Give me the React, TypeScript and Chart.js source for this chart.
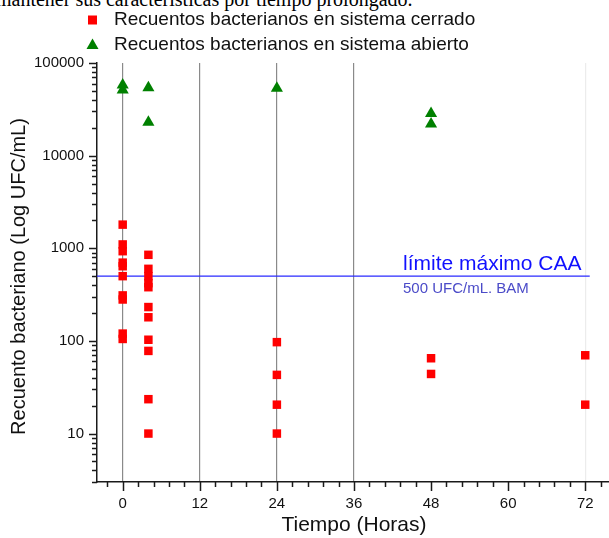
import React, { useEffect, useRef } from "react";
import { Chart, registerables } from "chart.js";

Chart.register(...registerables);

// ---- data ----
const introText = "mantener sus características por tiempo prolongado.";
const legendLabels = [
  "Recuentos bacterianos en sistema cerrado",
  "Recuentos bacterianos en sistema abierto",
];
const closedHours = [0, 0, 0, 0, 0, 0, 0, 0, 0, 0, 4, 4, 4, 4, 4, 4, 4, 4, 4, 4, 4, 24, 24, 24, 24, 48, 48, 72, 72];
const closedCounts = [1800, 1100, 930, 700, 640, 500, 310, 280, 120, 105, 850, 600, 500, 420, 380, 232, 180, 103, 78, 23.5, 10, 97, 43, 20.5, 10, 65, 44, 70, 20.5];
const openHours = [0, 0, 4, 4, 24, 48, 48];
const openCounts = [58000, 51000, 54000, 23000, 53500, 28500, 22000];
const xTickValues = [0, 12, 24, 36, 48, 60, 72];
const xGridValues = [0, 12, 24, 36];
const yTickValues = [10, 100, 1000, 10000, 100000];
const limitValue = 500;
const limitSpan = [-4, 72.7];
const limitTitle = "límite máximo CAA";
const limitNote = "500 UFC/mL. BAM";
const xTitle = "Tiempo (Horas)";
const yTitle = "Recuento bacteriano (Log UFC/mL)";

const SANS = "'Liberation Sans', Arial, sans-serif";

const decorPlugin = {
  id: "decor",
  afterDraw(chart: any) {
    const ctx = chart.ctx as CanvasRenderingContext2D;
    const xs = chart.scales.x;
    const ys = chart.scales.y;
    const area = chart.chartArea;
    ctx.save();
    // y ticks (outside, left)
    ctx.strokeStyle = "#1a1a1a";
    ctx.lineWidth = 1.5;
    for (let k = 0; k <= 5; k++) {
      for (let m = 1; m <= 9; m++) {
        const v = m * Math.pow(10, k);
        if (v < ys.min || v > ys.max) continue;
        const py = Math.round(ys.getPixelForValue(v)) + 0.5;
        const len = m === 1 ? 8 : 5;
        ctx.beginPath();
        ctx.moveTo(area.left - len, py);
        ctx.lineTo(area.left, py);
        ctx.stroke();
      }
    }
    // x ticks (outside, below)
    for (let i = -1; i * 2.4 <= xs.max; i++) {
      const v = i * 2.4;
      if (v < xs.min) continue;
      const px = Math.round(xs.getPixelForValue(v)) + 0.5;
      const major = i % 5 === 0;
      const len = major ? 9 : 5;
      ctx.beginPath();
      ctx.moveTo(px, area.bottom);
      ctx.lineTo(px, area.bottom + len);
      ctx.stroke();
    }
    // limit labels
    const ly = ys.getPixelForValue(limitValue);
    ctx.fillStyle = "#1010ff";
    ctx.font = `21px ${SANS}`;
    ctx.textAlign = "left";
    ctx.textBaseline = "alphabetic";
    ctx.fillText(limitTitle, 403, ly - 6);
    ctx.fillStyle = "#4b4bc8";
    ctx.font = `15px ${SANS}`;
    ctx.fillText(limitNote, 403, ly + 17);
    // axis titles
    ctx.fillStyle = "#111";
    ctx.font = `21px ${SANS}`;
    ctx.textAlign = "center";
    ctx.fillText(xTitle, xs.getPixelForValue(36), 531);
    ctx.font = `20px ${SANS}`;
    ctx.save();
    ctx.translate(25, (area.top + area.bottom) / 2 + 4);
    ctx.rotate(-Math.PI / 2);
    ctx.fillText(yTitle, 0, 0);
    ctx.restore();
    // legend
    ctx.textAlign = "left";
    ctx.textBaseline = "middle";
    ctx.font = `19px ${SANS}`;
    ctx.fillStyle = "#ff0000";
    ctx.fillRect(88, 15.5, 9, 9);
    ctx.fillStyle = "#111";
    ctx.fillText(legendLabels[0], 114, 20);
    ctx.fillStyle = "#008000";
    ctx.beginPath();
    ctx.moveTo(92.5, 38.5);
    ctx.lineTo(98.5, 49);
    ctx.lineTo(86.5, 49);
    ctx.closePath();
    ctx.fill();
    ctx.fillStyle = "#111";
    ctx.fillText(legendLabels[1], 114, 45);
    ctx.restore();
  },
};

export default function App() {
  const ref = useRef<HTMLCanvasElement | null>(null);
  useEffect(() => {
    if (!ref.current) return;
    const chart = new Chart(ref.current, {
      type: "scatter",
      data: {
        datasets: [
          {
            label: legendLabels[0],
            data: closedHours.map((x, i) => ({ x, y: closedCounts[i] })),
            pointStyle: "rect",
            pointRadius: 6,
            backgroundColor: "#ff0000",
            borderColor: "#ff0000",
            borderWidth: 0,
          },
          {
            label: legendLabels[1],
            data: openHours.map((x, i) => ({ x, y: openCounts[i] })),
            pointStyle: "triangle",
            pointRadius: 7,
            backgroundColor: "#008000",
            borderColor: "#008000",
            borderWidth: 0,
          },
          {
            label: "limit",
            type: "line",
            data: limitSpan.map((x) => ({ x, y: limitValue })),
            borderColor: "#2a2aff",
            borderWidth: 1.3,
            pointRadius: 0,
            showLine: true,
            fill: false,
          } as any,
        ],
      },
      options: {
        responsive: false,
        animation: false,
        events: [],
        layout: { autoPadding: false, padding: { top: 63, left: 0, right: 0, bottom: 0 } },
        plugins: { legend: { display: false }, tooltip: { enabled: false } },
        scales: {
          x: {
            type: "linear",
            min: -4,
            max: 75.7,
            afterFit: (s: any) => {
              s.height = 56;
              s.paddingLeft = 0;
              s.paddingRight = 0;
            },
            afterBuildTicks: (s: any) => {
              s.ticks = xTickValues.map((value) => ({ value }));
            },
            ticks: {
              autoSkip: false,
              maxRotation: 0,
              padding: 13,
              color: "#111",
              font: { family: SANS, size: 15 },
              callback: (v: any) => String(v),
            },
            grid: {
              drawTicks: false,
              lineWidth: 1.2,
              color: (c: any) =>
                c.tick && xGridValues.includes(c.tick.value)
                  ? "#8a8a8a"
                  : c.tick && c.tick.value === 72
                  ? "#ececec"
                  : "rgba(0,0,0,0)",
            },
            border: { display: true, color: "#1a1a1a", width: 1.5 },
          },
          y: {
            type: "logarithmic",
            min: 3,
            max: 100000,
            afterFit: (s: any) => {
              s.width = 97;
            },
            afterBuildTicks: (s: any) => {
              s.ticks = yTickValues.map((value) => ({ value }));
            },
            ticks: {
              padding: 13,
              color: "#111",
              font: { family: SANS, size: 15 },
              callback: (v: any) => String(v),
            },
            grid: { display: false, drawTicks: false },
            border: { display: true, color: "#1a1a1a", width: 1.5 },
          },
        },
      },
      plugins: [decorPlugin],
    });
    return () => chart.destroy();
  }, []);

  return (
    <div
      style={{
        position: "fixed",
        left: 0,
        top: 0,
        width: 609,
        height: 538,
        overflow: "hidden",
        background: "#fff",
      }}
    >
      <div
        style={{
          position: "absolute",
          left: -4,
          top: -11,
          fontFamily: "'Liberation Serif', 'Times New Roman', serif",
          fontSize: 20,
          lineHeight: "20px",
          whiteSpace: "nowrap",
          color: "#000",
        }}
      >
        {introText}
      </div>
      <canvas
        ref={ref}
        width={609}
        height={538}
        style={{ position: "absolute", left: 0, top: 0, width: 609, height: 538 }}
      />
    </div>
  );
}
